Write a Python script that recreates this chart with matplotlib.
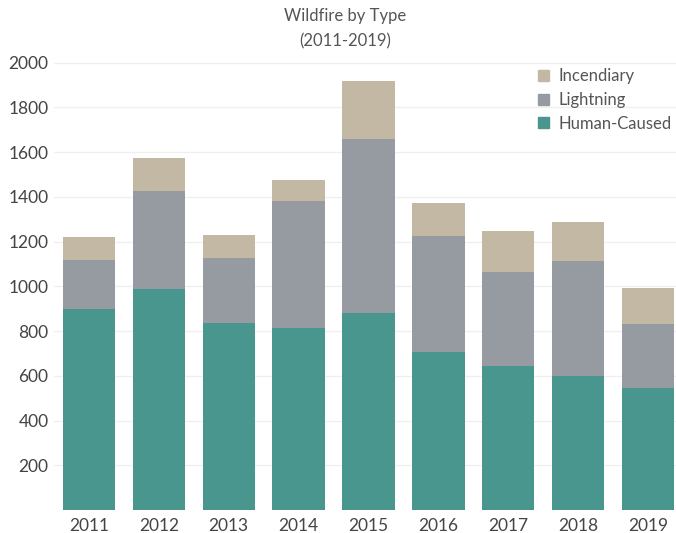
import numpy as np
import matplotlib; matplotlib.use('Agg')
import matplotlib.pyplot as plt
from matplotlib.patches import Patch

# ── Data: wildfires per year by cause ────────────────────────────────────────
years      = ['2011', '2012', '2013', '2014', '2015', '2016', '2017', '2018', '2019']
human      = [898, 988, 837, 814, 882, 706, 644, 599, 544]
lightning  = [220, 439, 291, 569, 775, 517, 418, 514, 287]
incendiary = [104, 148, 101, 92, 262, 149, 184, 173, 163]
yticks     = [200, 400, 600, 800, 1000, 1200, 1400, 1600, 1800, 2000]

C_HUMAN = '#49968f'
C_LIGHT = '#969aa1'
C_INCEN = '#c2b8a3'
TXT     = '#555555'

plt.rcParams['font.family'] = ['Lato', 'DejaVu Sans']

fig = plt.figure(figsize=(6.76, 5.33), dpi=100)
ax = fig.add_axes([54/676, 1 - 510/533, 622/676, (510 - 56)/533])

x = np.arange(len(years))
h = np.array(human)
l = np.array(lightning)
i = np.array(incendiary)

ax.bar(x, h, width=0.75, color=C_HUMAN, zorder=3)
ax.bar(x, l, width=0.75, bottom=h, color=C_LIGHT, zorder=3)
ax.bar(x, i, width=0.75, bottom=h + l, color=C_INCEN, zorder=3)

ax.set_xlim(-0.5, 8.4)
ax.set_ylim(0, 2030)
ax.set_yticks(yticks)
ax.set_xticks(x)
ax.set_xticklabels(years)
ax.grid(axis='y', color='#efefef', lw=0.9, zorder=0)
for s in ax.spines.values():
    s.set_visible(False)
ax.tick_params(length=0, labelsize=12.5, colors='#444444')
ax.tick_params(axis='y', pad=4)
ax.tick_params(axis='x', pad=6)

fig.text(0.51, 1 - 16/533, 'Wildfire by Type', ha='center', va='center',
         fontsize=12, color=TXT)
fig.text(0.51, 1 - 41/533, '(2011-2019)', ha='center', va='center',
         fontsize=12, color=TXT)

handles = [Patch(color=C_INCEN, label='Incendiary'),
           Patch(color=C_LIGHT, label='Lightning'),
           Patch(color=C_HUMAN, label='Human-Caused')]
leg = ax.legend(handles=handles, loc='upper left', bbox_to_anchor=(0.768, 0.988),
                frameon=False, fontsize=12, handlelength=0.65, handleheight=0.65,
                handletextpad=0.55, labelspacing=0.47, borderaxespad=0)
for t in leg.get_texts():
    t.set_color(TXT)

fig.savefig('out.png', dpi=100)
